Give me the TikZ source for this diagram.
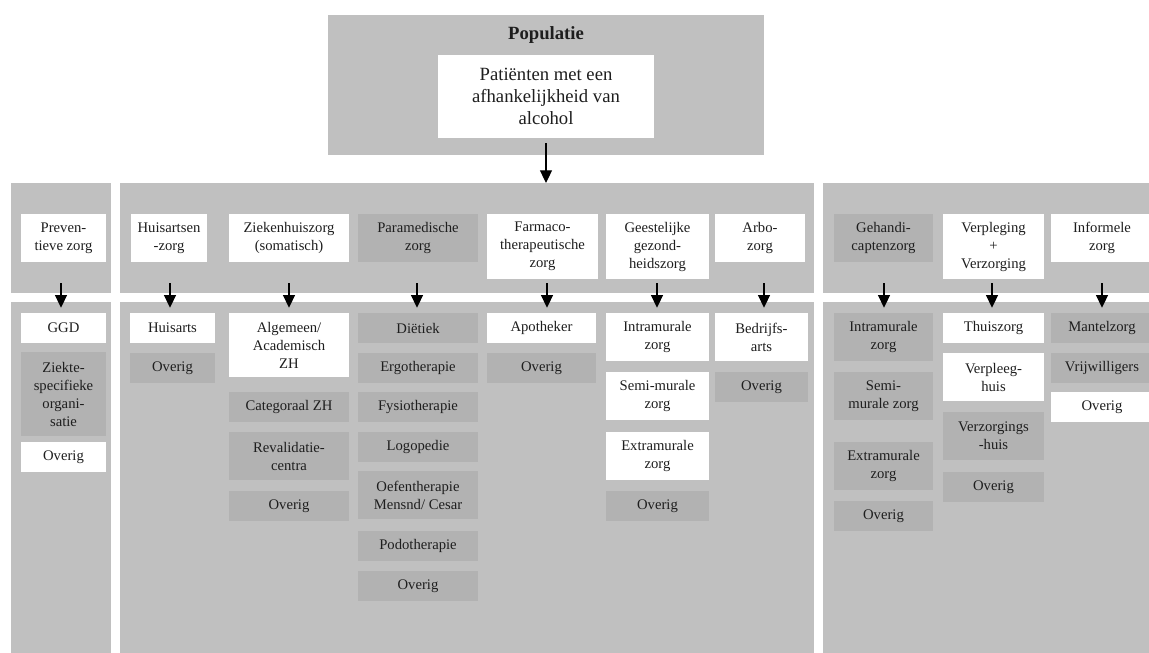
\documentclass[tikz,border=0pt]{standalone}
\usepackage{fontspec}
\setmainfont{Liberation Serif}
\usepackage{xcolor}
\usepackage{tikz}
\usetikzlibrary{arrows.meta,positioning}

\definecolor{paneel}{HTML}{C0C0C0}
\definecolor{donkervak}{HTML}{B2B2B2}
\definecolor{tekst}{HTML}{1E1E1E}

\tikzset{
    vak/.style={inner sep=0pt, align=center, text=tekst, font=\fontsize{11}{13.5}\selectfont},
    wit/.style={vak, fill=white},
    donker/.style={vak, fill=donkervak},
    pijl/.style={-{Triangle[length=9.5pt,width=9pt]}, line width=0.8pt, black}
}

% \vak{stijl}{naam}{x1}{y1}{x2}{y2}{tekst}
\newcommand{\vak}[7]{%
    \node[#1, minimum width={(#5-#3)*0.75pt}, minimum height={(#6-#4)*0.75pt}]
        (#2) at ({(#3+#5)/2},{(#4+#6)/2}) {#7};}

\begin{document}
\begin{tikzpicture}[x=0.75pt,y=-0.75pt]
    \useasboundingbox (0,0) rectangle (1149,653);

    \fill[paneel] (328,15) rectangle (764,155);
    \fill[paneel] (11,183) rectangle (111,293);
    \fill[paneel] (120,183) rectangle (814,293);
    \fill[paneel] (823,183) rectangle (1149,293);
    \fill[paneel] (11,302) rectangle (111,653);
    \fill[paneel] (120,302) rectangle (814,653);
    \fill[paneel] (823,302) rectangle (1149,653);

    \node[text=tekst,font=\bfseries\fontsize{14}{16.5}\selectfont] (pop) at (546,35) {Populatie};
    \vak{wit,font=\fontsize{14}{16.5}\selectfont}{pat}{438}{55}{654}{138}{Patiënten met een\\afhankelijkheid van\\alcohol}
    \coordinate (midtop) at (546,183);
    \draw[pijl,shorten <=3.75pt] (pat.south) -- (pat.south |- midtop);

    \vak{wit}{prev}{21}{214}{106}{262}{Preven-\\tieve zorg}
    \vak{wit}{hz}{131}{214}{207}{262}{Huisartsen\\-zorg}
    \vak{wit}{zh}{229}{214}{349}{262}{Ziekenhuiszorg\\(somatisch)}
    \vak{donker}{pm}{358}{214}{478}{262}{Paramedische\\zorg}
    \vak{wit}{fa}{487}{214}{598}{279}{Farmaco-\\therapeutische\\zorg}
    \vak{wit}{gg}{606}{214}{709}{279}{Geestelijke\\gezond-\\heidszorg}
    \vak{wit}{ar}{715}{214}{805}{262}{Arbo-\\zorg}
    \vak{donker}{gh}{834}{214}{933}{262}{Gehandi-\\captenzorg}
    \vak{wit}{vv}{943}{214}{1044}{279}{Verpleging\\+\\Verzorging}
    \vak{wit}{inf}{1051}{214}{1153}{262}{Informele\\zorg}

    \vak{wit}{prev1}{21}{313}{106}{343}{GGD}
    \vak{donker}{prev2}{21}{352}{106}{436}{Ziekte-\\specifieke\\organi-\\satie}
    \vak{wit}{prev3}{21}{442}{106}{472}{Overig}

    \vak{wit}{hz1}{130}{313}{215}{343}{Huisarts}
    \vak{donker}{hz2}{130}{353}{215}{383}{Overig}

    \vak{wit}{zh1}{229}{313}{349}{377}{Algemeen/\\Academisch\\ZH}
    \vak{donker}{zh2}{229}{392}{349}{422}{Categoraal ZH}
    \vak{donker}{zh3}{229}{432}{349}{480}{Revalidatie-\\centra}
    \vak{donker}{zh4}{229}{491}{349}{521}{Overig}

    \vak{donker}{pm1}{358}{313}{478}{343}{Diëtiek}
    \vak{donker}{pm2}{358}{353}{478}{383}{Ergotherapie}
    \vak{donker}{pm3}{358}{392}{478}{422}{Fysiotherapie}
    \vak{donker}{pm4}{358}{432}{478}{462}{Logopedie}
    \vak{donker}{pm5}{358}{471}{478}{519}{Oefentherapie\\Mensnd/ Cesar}
    \vak{donker}{pm6}{358}{531}{478}{561}{Podotherapie}
    \vak{donker}{pm7}{358}{571}{478}{601}{Overig}

    \vak{wit}{fa1}{487}{313}{596}{343}{Apotheker}
    \vak{donker}{fa2}{487}{353}{596}{383}{Overig}

    \vak{wit}{gg1}{606}{313}{709}{361}{Intramurale\\zorg}
    \vak{wit}{gg2}{606}{372}{709}{420}{Semi-murale\\zorg}
    \vak{wit}{gg3}{606}{432}{709}{480}{Extramurale\\zorg}
    \vak{donker}{gg4}{606}{491}{709}{521}{Overig}

    \vak{wit}{ar1}{715}{313}{808}{361}{Bedrijfs-\\arts}
    \vak{donker}{ar2}{715}{372}{808}{402}{Overig}

    \vak{donker}{gh1}{834}{313}{933}{361}{Intramurale\\zorg}
    \vak{donker}{gh2}{834}{372}{933}{420}{Semi-\\murale zorg}
    \vak{donker}{gh3}{834}{442}{933}{490}{Extramurale\\zorg}
    \vak{donker}{gh4}{834}{501}{933}{531}{Overig}

    \vak{wit}{vv1}{943}{313}{1044}{343}{Thuiszorg}
    \vak{wit}{vv2}{943}{353}{1044}{401}{Verpleeg-\\huis}
    \vak{donker}{vv3}{943}{412}{1044}{460}{Verzorgings\\-huis}
    \vak{donker}{vv4}{943}{472}{1044}{502}{Overig}

    \vak{donker}{inf1}{1051}{313}{1153}{343}{Mantelzorg}
    \vak{donker}{inf2}{1051}{353}{1153}{383}{Vrijwilligers}
    \vak{wit}{inf3}{1051}{392}{1153}{422}{Overig}

    \foreach \naam/\x in {prev/61,hz/170,zh/289,pm/417,fa/547,gg/657,ar/764,gh/884,vv/992,inf/1102} {
        \coordinate (\naam-p) at (\x,283);
        \draw[pijl,shorten >=3.75pt] (\naam-p) -- (\naam-p |- \naam1.north);
    }
\end{tikzpicture}
\end{document}
